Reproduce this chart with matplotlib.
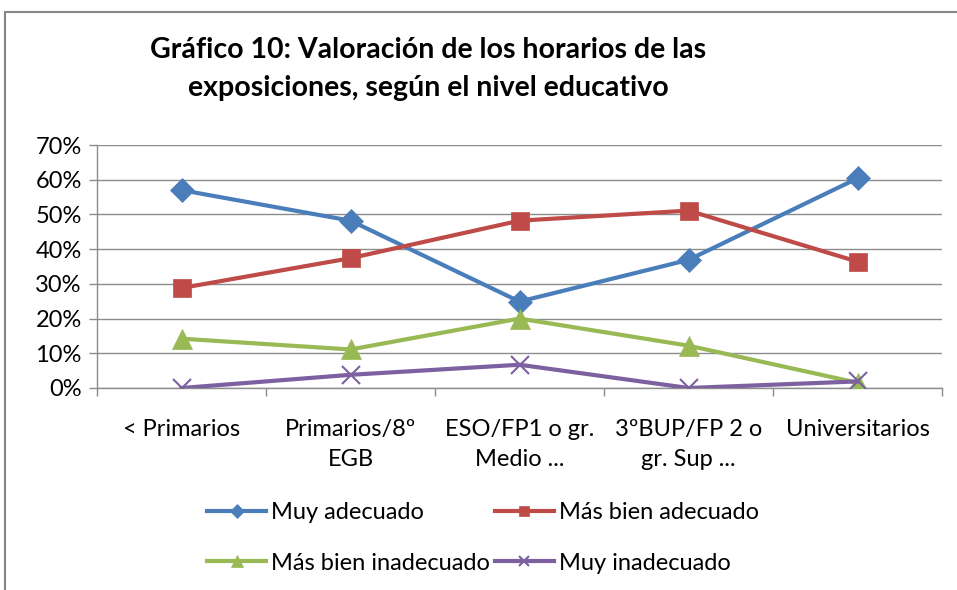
import matplotlib
matplotlib.use("Agg")
import matplotlib.pyplot as plt
from matplotlib.patches import Rectangle
from matplotlib.ticker import FuncFormatter, FixedLocator

plt.rcParams['font.family'] = ['Lato', 'DejaVu Sans']

categories = ["< Primarios", "Primarios/8º\nEGB", "ESO/FP1 o gr.\nMedio ...",
              "3ºBUP/FP 2 o\ngr. Sup ...", "Universitarios"]
muy_adecuado = [57.0, 48.2, 24.9, 36.9, 60.4]
mas_bien_adecuado = [28.8, 37.4, 48.2, 51.1, 36.4]
mas_bien_inadecuado = [14.2, 11.1, 20.0, 12.2, 1.5]
muy_inadecuado = [0.0, 3.8, 6.7, 0.0, 1.9]
series_names = ["Muy adecuado", "Más bien adecuado", "Más bien inadecuado", "Muy inadecuado"]
title = "Gráfico 10: Valoración de los horarios de las\nexposiciones, según el nivel educativo"

W, H = 957, 590
fig = plt.figure(figsize=(W / 100, H / 100), dpi=100)
fig.patch.set_facecolor('white')

# outer chart border (right/bottom outside the image)
fig.add_artist(Rectangle((5 / W, -0.1), 1.2, (H - 12) / H + 0.1, transform=fig.transFigure,
                         fill=False, edgecolor='#868686', linewidth=1.5))

left, right, top, bottom = 97, 942, 145, 388
ax = fig.add_axes([left / W, 1 - bottom / H, (right - left) / W, (bottom - top) / H])

x = list(range(len(categories)))
styles = [
    (muy_adecuado, '#4A7EBB', 'D', 12),
    (mas_bien_adecuado, '#BE4B48', 's', 13),
    (mas_bien_inadecuado, '#98B954', '^', 14),
    (muy_inadecuado, '#7D60A0', 'x', 13),
]
handles = []
for (vals, col, mk, ms), name in zip(styles, series_names):
    kw = dict(markeredgewidth=1.5) if mk == 'x' else dict(markeredgewidth=0.5)
    h, = ax.plot(x, vals, color=col, linewidth=3, marker=mk, markersize=ms,
                 markerfacecolor=col, markeredgecolor=col, label=name, zorder=3, **kw)
    handles.append(h)

ax.set_xlim(-0.5, len(categories) - 0.5)
ax.set_ylim(0, 70)
ax.set_yticks(range(0, 71, 10))
ax.yaxis.set_major_formatter(FuncFormatter(lambda v, p: f"{int(v)}%"))
ax.grid(axis='y', color='#8c8c8c', linewidth=1)
ax.set_axisbelow(True)
ax.set_xticks(x)
ax.set_xticklabels(categories, fontsize=17, linespacing=1.55)
ax.xaxis.set_minor_locator(FixedLocator([i - 0.5 for i in range(len(categories) + 1)]))
ax.tick_params(axis='x', which='major', length=0, pad=22)
ax.tick_params(axis='x', which='minor', length=6, color='#8c8c8c', width=1)
ax.tick_params(axis='y', length=6, color='#8c8c8c', width=1, labelsize=17, pad=5, direction='out')
for s in ['top', 'right']:
    ax.spines[s].set_visible(False)
for s in ['left', 'bottom']:
    ax.spines[s].set_color('#8c8c8c')
    ax.spines[s].set_linewidth(1)

fig.text(428 / W, 1 - 69 / H, title, ha='center', va='center', fontsize=20.5,
         fontweight='bold', linespacing=1.6)

order = [0, 2, 1, 3]
leg = fig.legend([handles[i] for i in order], [series_names[i] for i in order],
                 loc='center', bbox_to_anchor=(483 / W, 1 - 538 / H), ncol=2,
                 frameon=False, fontsize=17, handlelength=2.5, handletextpad=0.2,
                 columnspacing=0.2, labelspacing=1.25, markerscale=0.6)

fig.savefig("out.png", dpi=100)
